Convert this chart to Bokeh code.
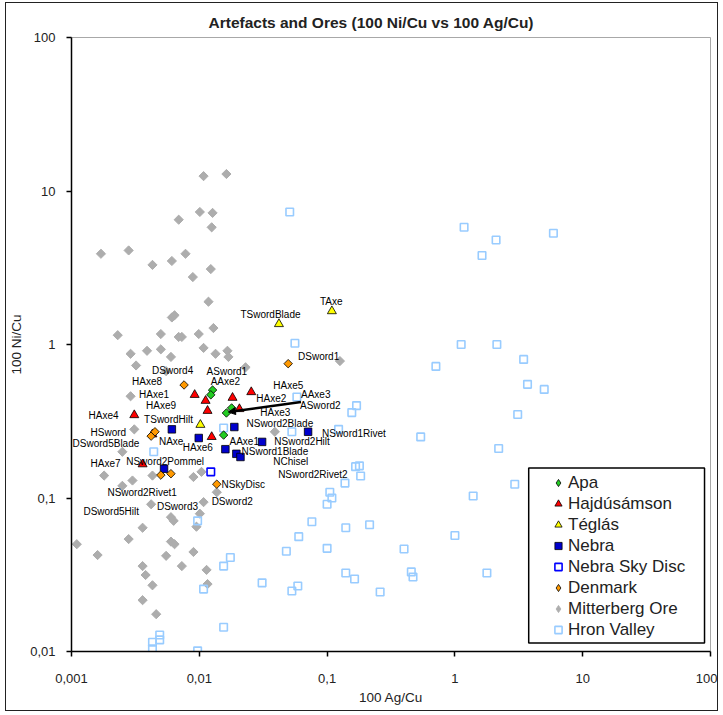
import math
from bokeh.plotting import figure
from bokeh.models import (FixedTicker, Legend, LegendItem, Arrow, NormalHead,
                          Range1d, CustomJSTickFormatter, BoxAnnotation)
from bokeh.embed import file_html
from bokeh.resources import INLINE
from bokeh.core.properties import value

FONT = "Liberation Sans"

# ---------------- data (100 Ag/Cu, 100 Ni/Cu) ----------------
apa_ag = [0.0127, 0.0123, 0.0179, 0.0163, 0.0155]
apa_ni = [0.505, 0.47, 0.386, 0.358, 0.257]

hajdu_ag = [0.0031, 0.0043, 0.0036, 0.0092, 0.0112, 0.0116, 0.0125, 0.0182, 0.0206, 0.0255]
hajdu_ni = [0.347, 0.26, 0.166, 0.47, 0.43, 0.37, 0.25, 0.45, 0.38, 0.49]

teglas_ag = [0.042, 0.109, 0.0102]
teglas_ni = [1.36, 1.65, 0.30]

nebra_ag = [0.0188, 0.0099, 0.016, 0.0195, 0.021, 0.0053, 0.031, 0.071, 0.0061]
nebra_ni = [0.29, 0.246, 0.208, 0.194, 0.185, 0.155, 0.232, 0.27, 0.28]

skydisc_ag = [0.0123]
skydisc_ni = [0.148]

denmark_ag = [0.0496, 0.0076, 0.0042, 0.0045, 0.005, 0.006, 0.0137]
denmark_ni = [0.75, 0.545, 0.253, 0.27, 0.141, 0.144, 0.123]

mitter_ag = [0.0108, 0.0163, 0.0101, 0.0127, 0.0069, 0.0125, 0.0017, 0.0028, 0.0043, 0.0061,
             0.0078, 0.0123, 0.0089, 0.0118, 0.0061, 0.0064, 0.0023, 0.005, 0.0069, 0.0073,
             0.0099, 0.0129, 0.0029, 0.0039, 0.005, 0.006, 0.0108, 0.0134, 0.0166, 0.0169,
             0.023, 0.0032, 0.0055, 0.0029, 0.0031, 0.0018, 0.0043, 0.126, 0.039, 0.0025,
             0.003, 0.0042, 0.0108, 0.0101, 0.0137, 0.006, 0.0063, 0.0036, 0.0095, 0.0011,
             0.0028, 0.006, 0.0064, 0.0016, 0.009, 0.0055, 0.0036, 0.0073, 0.0114, 0.0038,
             0.0116, 0.0043, 0.0036, 0.0046, 0.0104, 0.009, 0.0025]
mitter_ni = [12.5, 12.9, 7.3, 7.2, 6.5, 5.8, 3.9, 4.1, 3.3, 3.5,
             3.9, 3.1, 2.75, 1.9, 1.5, 1.55, 1.15, 1.17, 1.12, 1.12,
             1.17, 1.28, 0.87, 0.91, 0.93, 0.83, 0.95, 0.87, 0.91, 0.83,
             0.71, 0.73, 0.67, 0.46, 0.28, 0.14, 0.14, 0.78, 0.27, 0.12,
             0.13, 0.091, 0.094, 0.079, 0.109, 0.075, 0.071, 0.064, 0.065, 0.05,
             0.054, 0.052, 0.05, 0.0425, 0.0445, 0.042, 0.036, 0.036, 0.034, 0.0315,
             0.0275, 0.027, 0.0216, 0.0175, 0.148, 0.137, 0.20]

hron_ag = [0.051, 1.18, 2.1, 1.63, 5.9, 0.056, 1.12, 2.13, 0.71, 3.45,
           3.7, 5.0, 0.058, 0.17, 0.156, 0.053, 0.123, 0.54, 2.2, 0.167,
           0.179, 0.183, 0.138, 0.105, 0.109, 0.1, 1.39, 0.076, 0.14, 0.215,
           1.0, 0.06, 0.048, 0.1, 0.40, 0.14, 0.164, 0.456, 0.47, 1.78,
           0.031, 0.059, 0.053, 0.26, 3.1, 2.94, 0.0097, 0.0175, 0.0155, 0.0108,
           0.0155, 0.0049, 0.0049, 0.0043, 0.0043, 0.0097, 0.0155, 0.0044]
hron_ni = [7.3, 5.8, 4.8, 3.8, 5.3, 1.02, 1.0, 1.0, 0.72, 0.8,
           0.55, 0.51, 0.455, 0.40, 0.36, 0.27, 0.28, 0.25, 0.21, 0.16,
           0.162, 0.139, 0.125, 0.109, 0.1, 0.091, 0.103, 0.07, 0.064, 0.067,
           0.057, 0.056, 0.045, 0.047, 0.0465, 0.0325, 0.0297, 0.033, 0.0306, 0.0325,
           0.028, 0.0267, 0.0248, 0.0244, 0.35, 0.123, 0.071, 0.041, 0.036, 0.0255,
           0.0144, 0.0128, 0.0119, 0.0115, 0.0104, 0.0101, 0.286, 0.2]

series_names = ["Apa", "Hajdúsámson", "Téglás", "Nebra", "Nebra Sky Disc",
                "Denmark", "Mitterberg Ore", "Hron Valley"]

# point labels (text, position in data space)
label_text = ["DSword4", "ASword1", "HAxe8", "AAxe2", "HAxe1", "HAxe9", "HAxe4", "TSwordHilt",
              "HSword", "DSword5Blade", "NAxe", "AAxe1", "HAxe6", "HAxe7", "NSword2Pommel",
              "NSkyDisc", "NSword2Rivet1", "DSword3", "DSword2", "DSword5Hilt", "TAxe",
              "TSwordBlade", "DSword1", "HAxe5", "AAxe3", "HAxe2", "ASword2", "HAxe3",
              "NSword2Blade", "NSword1Rivet", "NSword2Hilt", "NSword1Blade", "NChisel",
              "NSword2Rivet2"]
label_x = [0.00427, 0.0114, 0.00298, 0.01227, 0.00338, 0.00383, 0.00136, 0.0037,
           0.00141, 0.00102, 0.00483, 0.01723, 0.00743, 0.00141, 0.00268,
           0.01494, 0.00191, 0.00466, 0.01249, 0.00124, 0.0879,
           0.021, 0.0593, 0.0379, 0.0625, 0.0279, 0.0614, 0.03,
           0.0234, 0.0912, 0.0386, 0.0214, 0.0379, 0.0414]
label_y = [0.672, 0.662, 0.57, 0.57, 0.469, 0.403, 0.347, 0.327,
           0.269, 0.225, 0.232, 0.235, 0.212, 0.167, 0.174,
           0.123, 0.109, 0.0874, 0.0942, 0.0811, 1.92,
           1.58, 0.841, 0.537, 0.469, 0.448, 0.398, 0.363,
           0.308, 0.265, 0.232, 0.202, 0.174, 0.143]

arrow_start = (0.0625, 0.422)
arrow_end = (0.0169, 0.363)

# legend frame (decoration, data space: left, right, bottom, top)
legend_box = (3.78, 89.8, 0.01136, 0.1567)

x_ticks = [0.001, 0.01, 0.1, 1, 10, 100]
y_ticks = [0.01, 0.1, 1, 10, 100]

# ---------------- figure ----------------
p = figure(width=713, height=709, x_axis_type="log", y_axis_type="log",
           x_range=Range1d(0.001, 100), y_range=Range1d(0.01, 100),
           output_backend="svg", toolbar_location=None,
           min_border_left=60, min_border_right=9, min_border_top=34, min_border_bottom=61,
           background_fill_color="white", border_fill_color="white",
           outline_line_color="#A8A8A8", outline_line_width=1)
p.styles = {"border": "1px solid #222", "margin-left": "5px", "margin-top": "2px"}

p.title.text = "Artefacts and Ores (100 Ni/Cu vs 100 Ag/Cu)"
p.title.text_font = FONT
p.title.text_font_size = "15.5px"
p.title.text_font_style = "bold"
p.title.text_color = "#222222"
p.title.align = "left"
p.title.offset = 137
p.title.standoff = 14

p.grid.visible = False

p.xaxis.ticker = FixedTicker(ticks=x_ticks)
p.yaxis.ticker = FixedTicker(ticks=y_ticks)
p.xaxis.formatter = CustomJSTickFormatter(code="return tick.toString().replace('.', ',');")
p.yaxis.formatter = CustomJSTickFormatter(code="return tick.toString().replace('.', ',');")
for ax in (p.xaxis, p.yaxis):
    ax.axis_line_color = "black"
    ax.axis_line_width = 1.5
    ax.major_tick_line_color = "black"
    ax.major_tick_line_width = 1.5
    ax.major_tick_out = 5
    ax.major_tick_in = 0
    ax.minor_tick_line_color = None
    ax.major_label_text_font = FONT
    ax.major_label_text_font_size = "13px"
    ax.major_label_text_color = "#222222"
    ax.axis_label_text_font = FONT
    ax.axis_label_text_font_size = "13.5px"
    ax.axis_label_text_font_style = "normal"
    ax.axis_label_text_color = "#222222"
p.xaxis.axis_label = "100 Ag/Cu"
p.yaxis.axis_label = "100 Ni/Cu"
p.xaxis.major_label_standoff = 17
p.xaxis.axis_label_standoff = 4
p.yaxis.major_label_standoff = 11
p.yaxis.axis_label_standoff = 3

rot = math.pi / 4

p.scatter(mitter_ag, mitter_ni, marker="square", angle=rot, size=6.5,
          fill_color="#ADADAD", line_color="#ADADAD")
p.scatter(hron_ag, hron_ni, marker="square", size=7.5,
          fill_color=None, line_color="#99CCFF", line_width=1.6)
p.scatter(apa_ag, apa_ni, marker="square", angle=rot, size=6,
          fill_color="#22CC22", line_color="black", line_width=0.8)
p.scatter(hajdu_ag, hajdu_ni, marker="triangle", size=9,
          fill_color="#FF0000", line_color="black", line_width=0.8)
p.scatter(teglas_ag, teglas_ni, marker="triangle", size=9,
          fill_color="#FFFF00", line_color="black", line_width=0.8)
p.scatter(nebra_ag, nebra_ni, marker="square", size=7.5,
          fill_color="#0000CC", line_color="black", line_width=0.8)
p.scatter(skydisc_ag, skydisc_ni, marker="square", size=7.5,
          fill_color=None, line_color="#0000FF", line_width=1.6)
p.scatter(denmark_ag, denmark_ni, marker="square", angle=rot, size=6,
          fill_color="#FF9900", line_color="black", line_width=0.8)

p.text(x=label_x, y=label_y, text=label_text, text_font=value(FONT),
       text_font_size="10px", text_align="left", text_baseline="middle",
       text_color="black")

p.add_layout(Arrow(end=NormalHead(size=7, fill_color="black", line_color="black"),
                   x_start=arrow_start[0], y_start=arrow_start[1],
                   x_end=arrow_end[0], y_end=arrow_end[1],
                   line_color="black", line_width=2.5))

# legend frame drawn as a box, legend entries on top of it
p.add_layout(BoxAnnotation(left=legend_box[0], right=legend_box[1],
                           bottom=legend_box[2], top=legend_box[3],
                           fill_color="white", fill_alpha=1,
                           line_color="black", line_width=1.5, line_alpha=1))

# legend glyphs: renderers holding one NaN point (never drawn in the plot)
leg_styles = [
    dict(marker="diamond", fill_color="#22CC22", line_color="black", line_width=0.8),
    dict(marker="triangle", fill_color="#FF0000", line_color="black", line_width=0.8),
    dict(marker="triangle", fill_color="#FFFF00", line_color="black", line_width=0.8),
    dict(marker="square", fill_color="#0000CC", line_color="black", line_width=0.8),
    dict(marker="square", fill_color=None, line_color="#0000FF", line_width=1.6),
    dict(marker="diamond", fill_color="#FF9900", line_color="black", line_width=0.8),
    dict(marker="diamond", fill_color="#ADADAD", line_color="#ADADAD", line_width=0.8),
    dict(marker="square", fill_color=None, line_color="#99CCFF", line_width=1.6),
]
nan = float("nan")
items = []
for name, st in zip(series_names, leg_styles):
    r = p.scatter(x=[nan], y=[nan], **st)
    items.append(LegendItem(label=name, renderers=[r]))

legend = Legend(items=items, location=(478, 11))
legend.label_text_font = FONT
legend.label_text_font_size = "17px"
legend.label_text_color = "#222222"
legend.padding = 2
legend.margin = 0
legend.spacing = 0
legend.glyph_width = 18
legend.glyph_height = 21
legend.label_height = 21
legend.label_standoff = 1
legend.border_line_color = None
legend.background_fill_alpha = 0
p.add_layout(legend)

open("out.html", "w").write(file_html(p, INLINE))
